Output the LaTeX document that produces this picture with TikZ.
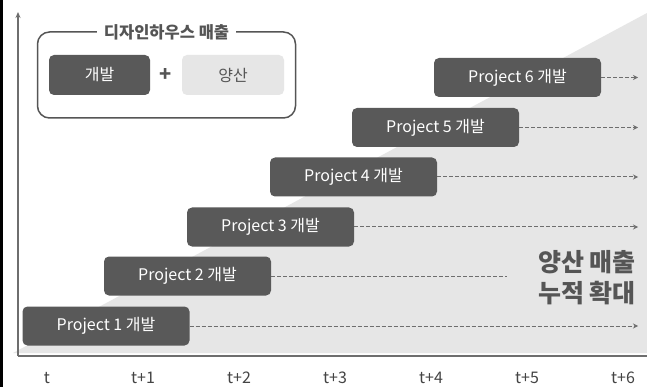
\documentclass[tikz,border=0pt]{standalone}
\usepackage{fontspec}
\setmainfont{Noto Sans CJK KR}
\usetikzlibrary{arrows.meta}
\definecolor{dk}{HTML}{595959}
\definecolor{lt}{HTML}{E6E6E6}
\definecolor{ax}{HTML}{6E6E6E}
\definecolor{tx}{HTML}{555555}
\tikzset{
  proj/.style={rounded corners=5pt, fill=dk, text=white, minimum width=167pt, minimum height=39pt, inner sep=0pt, font=\fontsize{16}{18}\selectfont},
  dashline/.style={draw=ax, line width=1pt, dash pattern=on 4pt off 2pt},
  dasharrow/.style={dashline, -{Stealth[length=5pt,width=5pt]}},
  tlabel/.style={text=tx!80!black, font=\fontsize{16}{18}\selectfont, anchor=base},
}
\begin{document}
\begin{tikzpicture}[x=1pt,y=-1pt]
\useasboundingbox (0,0) rectangle (647,387);
\fill[white] (0,0) rectangle (647,387);
\fill[black] (0,0) rectangle (3,387);
% gray triangle
\fill[lt] (13,353) -- (647,13) -- (647,353) -- cycle;
% axes
\coordinate (o) at (18,356);
\coordinate (ytop) at (18,12);
\coordinate (xend) at (647,356);
\draw[ax, line width=1.5pt, -{Stealth[length=6pt,width=5pt]}] (o) -- (ytop);
\draw[ax, line width=1.5pt] (o) -- (xend);
% legend
\node[draw=tx, line width=1.5pt, rounded corners=12pt, minimum width=258pt, minimum height=86pt, inner sep=0pt] (leg) at (166.5,75) {};
\node[fill=white, text=tx, inner xsep=7pt, inner ysep=2pt, font=\fontsize{16.5}{18}\selectfont\bfseries] (legt) at (166.5,32) {디자인하우스 매출};
\node[proj, minimum width=101pt, minimum height=40pt] (dev) at (99.5,75) {개발};
\node[text=tx, font=\fontsize{20}{22}\selectfont\bfseries] (plus) at (166,75) {+};
\node[proj, fill=lt, text=tx, minimum width=102pt, minimum height=40pt] (mass) at (233,75) {양산};
% projects
\node[proj] (p1) at (106,326) {Project 1 개발};
\node[proj] (p2) at (187.5,276) {Project 2 개발};
\node[proj] (p3) at (270.5,227) {Project 3 개발};
\node[proj] (p4) at (353.5,177) {Project 4 개발};
\node[proj] (p5) at (435.5,127.5) {Project 5 개발};
\node[proj] (p6) at (517.5,77.5) {Project 6 개발};
\coordinate (e1) at (638,326);
\coordinate (e2) at (507,276);
\coordinate (e3) at (638,227);
\coordinate (e4) at (638,177);
\coordinate (e5) at (638,127.5);
\coordinate (e6) at (638,77.5);
\draw[dasharrow] (p1.east) -- (e1);
\draw[dashline] (p2.east) -- (e2);
\draw[dasharrow] (p3.east) -- (e3);
\draw[dasharrow] (p4.east) -- (e4);
\draw[dasharrow] (p5.east) -- (e5);
\draw[dasharrow] (p6.east) -- (e6);
% big text
\node[text=tx, font=\fontsize{25}{31}\selectfont\bfseries, align=right, anchor=east, inner sep=0pt] (big) at (636,278) {양산 매출\\누적 확대};
% time labels
\node[tlabel] (t0) at (47,383) {t};
\node[tlabel] (t1) at (143,383) {t+1};
\node[tlabel] (t2) at (239,383) {t+2};
\node[tlabel] (t3) at (335,383) {t+3};
\node[tlabel] (t4) at (431,383) {t+4};
\node[tlabel] (t5) at (527,383) {t+5};
\node[tlabel] (t6) at (623,383) {t+6};
\end{tikzpicture}
\end{document}
